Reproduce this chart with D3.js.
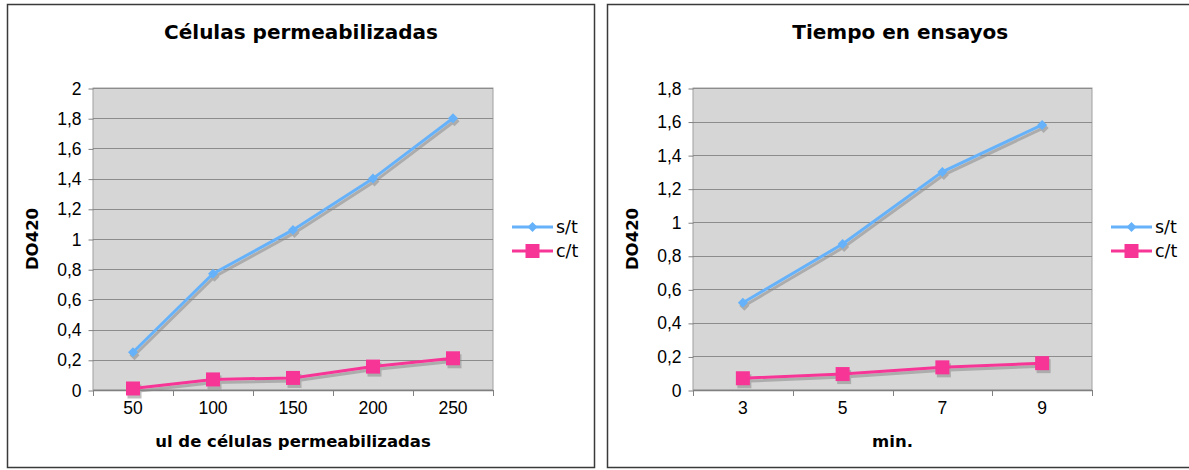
<!DOCTYPE html>
<html>
<head>
<meta charset="utf-8">
<script src="https://cdn.jsdelivr.net/npm/d3@7/dist/d3.min.js"></script>
<style>
  body { margin: 0; background: #fff; }
  svg { display: block; font-family: "DejaVu Sans", Verdana, sans-serif; }
  .axis path, .axis line { stroke: #808080; }
  .axis text { font-size: 17.5px; fill: #000; }
</style>
</head>
<body>
<div id="chart"></div>
<script>
// left chart: cells
const cellCats = [50, 100, 150, 200, 250];
const cellSt = [0.25, 0.77, 1.06, 1.40, 1.80];
const cellCt = [0.01, 0.07, 0.08, 0.155, 0.21];
const cellTicks = [0, 0.2, 0.4, 0.6, 0.8, 1, 1.2, 1.4, 1.6, 1.8, 2];

// right chart: time
const timeCats = [3, 5, 7, 9];
const timeSt = [0.52, 0.87, 1.30, 1.58];
const timeCt = [0.07, 0.095, 0.135, 0.16];
const timeTicks = [0, 0.2, 0.4, 0.6, 0.8, 1, 1.2, 1.4, 1.6, 1.8];

const seriesNames = ['s/t', 'c/t'];

const width = 1189;
const height = 470;

const svg = d3.select('#chart')
  .append('svg')
    .attr('width', width)
    .attr('height', height);

const fmt = d => String(+d.toFixed(1)).replace('.', ',');

function drawPanel(opts) {
  const { frame, plot, cats, st, ct, ticks, title, xTitle } = opts;

  // panel frame
  svg.append('rect')
    .attr('x', frame.x0)
    .attr('y', frame.y0)
    .attr('width', frame.x1 - frame.x0)
    .attr('height', frame.y1 - frame.y0)
    .attr('fill', '#fff')
    .attr('stroke', '#3a3a3a')
    .attr('stroke-width', 1.5);

  const x = d3.scaleBand()
    .domain(cats)
    .range([plot.x0, plot.x1]);

  const y = d3.scaleLinear()
    .domain([0, d3.max(ticks)])
    .range([plot.y1, plot.y0]);

  const cx = d => x(d) + x.bandwidth() / 2;

  // plot background
  svg.append('rect')
    .attr('x', plot.x0)
    .attr('y', plot.y0)
    .attr('width', plot.x1 - plot.x0)
    .attr('height', plot.y1 - plot.y0)
    .attr('fill', '#d6d6d6')
    .attr('stroke', '#a0a0a0');

  // gridlines
  svg.append('g')
    .selectAll('line')
    .data(ticks.filter(t => t > 0))
    .enter().append('line')
      .attr('x1', plot.x0)
      .attr('x2', plot.x1)
      .attr('y1', d => Math.round(y(d)) + 0.5)
      .attr('y2', d => Math.round(y(d)) + 0.5)
      .attr('stroke', '#8c8c8c');

  // y axis
  svg.append('g')
    .attr('class', 'axis axis-y')
    .attr('transform', `translate(${plot.x0 + 0.5}, 0.5)`)
    .call(d3.axisLeft(y).tickValues(ticks).tickFormat(fmt).tickSize(5).tickPadding(7).tickSizeOuter(0))
    .call(g => g.select('.domain').remove());

  // x axis line
  svg.append('line')
    .attr('x1', plot.x0)
    .attr('x2', plot.x1)
    .attr('y1', plot.y1 + 0.5)
    .attr('y2', plot.y1 + 0.5)
    .attr('stroke', '#808080')
    .attr('stroke-width', 1.5);

  // category boundary ticks
  const bounds = cats.map(c => x(c)).concat([x.range()[1]]);
  svg.append('g')
    .selectAll('line')
    .data(bounds)
    .enter().append('line')
      .attr('x1', d => Math.round(d) + 0.5)
      .attr('x2', d => Math.round(d) + 0.5)
      .attr('y1', plot.y1)
      .attr('y2', plot.y1 + 6)
      .attr('stroke', '#808080');

  // x tick labels
  svg.append('g')
    .attr('class', 'axis axis-x')
    .attr('transform', `translate(0, ${plot.y1 + 4})`)
    .call(d3.axisBottom(x).tickSize(0).tickPadding(8))
    .call(g => g.select('.domain').remove());

  // titles
  svg.append('text')
    .attr('x', (frame.x0 + frame.x1) / 2)
    .attr('y', 39)
    .attr('text-anchor', 'middle')
    .attr('font-size', 20)
    .attr('font-weight', 'bold')
    .text(title);

  svg.append('text')
    .attr('x', (plot.x0 + plot.x1) / 2)
    .attr('y', 447)
    .attr('text-anchor', 'middle')
    .attr('font-size', 16.5)
    .attr('font-weight', 'bold')
    .text(xTitle);

  svg.append('text')
    .attr('transform', `translate(${plot.x0 - 55}, ${(plot.y0 + plot.y1) / 2}) rotate(-90)`)
    .attr('text-anchor', 'middle')
    .attr('font-size', 16.5)
    .attr('font-weight', 'bold')
    .text('DO420');

  const line = d3.line()
    .x((d, i) => cx(cats[i]))
    .y(d => y(d));

  const series = [
    { name: seriesNames[0], values: st, color: '#66b2fa', width: 3, marker: 'diamond', size: 8 },
    { name: seriesNames[1], values: ct, color: '#f73597', width: 3, marker: 'square', size: 14 },
  ];

  const marker = (g, s, px, py, fill) => {
    if (s.marker === 'square') {
      g.append('rect')
        .attr('x', px - s.size / 2)
        .attr('y', py - s.size / 2)
        .attr('width', s.size)
        .attr('height', s.size)
        .attr('fill', fill);
    } else {
      const r = s.size / 2 + 1;
      g.append('path')
        .attr('d', `M${px},${py - r}L${px + r},${py}L${px},${py + r}L${px - r},${py}Z`)
        .attr('fill', fill);
    }
  };

  // shadows first
  series.forEach(s => {
    const sh = svg.append('g')
      .attr('transform', 'translate(1.5, 3)')
      .attr('opacity', 0.55);
    sh.append('path')
      .attr('d', line(s.values))
      .attr('fill', 'none')
      .attr('stroke', '#8a8a8a')
      .attr('stroke-width', s.width);
    s.values.forEach((v, i) => marker(sh, s, cx(cats[i]), y(v), '#8a8a8a'));
  });

  series.forEach(s => {
    const g = svg.append('g');
    g.append('path')
      .attr('d', line(s.values))
      .attr('fill', 'none')
      .attr('stroke', s.color)
      .attr('stroke-width', s.width);
    s.values.forEach((v, i) => marker(g, s, cx(cats[i]), y(v), s.color));
  });

  // legend
  series.forEach((s, i) => {
    const ly = 227 + i * 24;
    const lx = plot.x1 + 19;
    const g = svg.append('g');
    g.append('line')
      .attr('x1', lx)
      .attr('x2', lx + 41)
      .attr('y1', ly)
      .attr('y2', ly)
      .attr('stroke', s.color)
      .attr('stroke-width', s.width);
    marker(g, s, lx + 20.5, ly, s.color);
    g.append('text')
      .attr('x', lx + 44)
      .attr('y', ly + 6)
      .attr('font-size', 17.5)
      .text(s.name);
  });
}

drawPanel({
  frame: { x0: 7.5, y0: 4.5, x1: 594.5, y1: 467.5 },
  plot: { x0: 93, y0: 88, x1: 493, y1: 390 },
  cats: cellCats,
  st: cellSt,
  ct: cellCt,
  ticks: cellTicks,
  title: 'Células permeabilizadas',
  xTitle: 'ul de células permeabilizadas',
});

drawPanel({
  frame: { x0: 607.5, y0: 4.5, x1: 1193, y1: 467.5 },
  plot: { x0: 693, y0: 88, x1: 1092, y1: 390 },
  cats: timeCats,
  st: timeSt,
  ct: timeCt,
  ticks: timeTicks,
  title: 'Tiempo en ensayos',
  xTitle: 'min.',
});
</script>
</body>
</html>
